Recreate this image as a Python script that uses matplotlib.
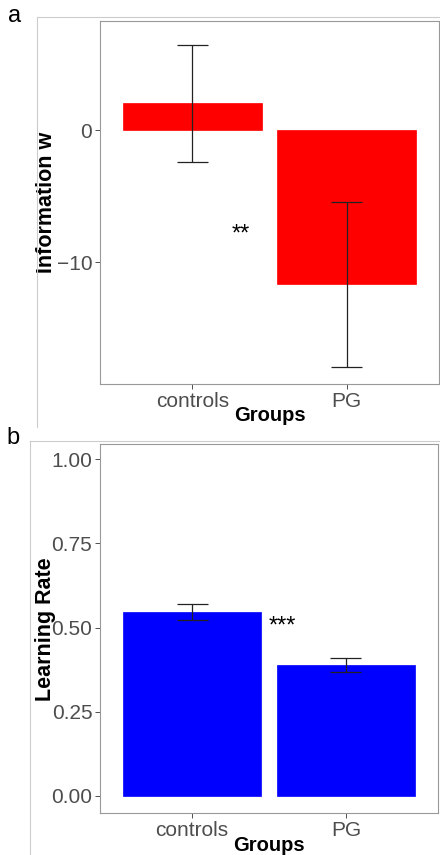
import numpy as np
import matplotlib
matplotlib.use("Agg")
from matplotlib import pyplot as plt
from matplotlib.lines import Line2D

plt.rcParams['font.family'] = ['Liberation Sans', 'DejaVu Sans']

# ----- data -----
groups = ["controls", "PG"]

info_w_mean = [2.03, -11.69]
info_w_err = [4.43, 6.24]

lr_mean = [0.547, 0.388]
lr_err = [0.024, 0.021]

W, H = 440, 855
DPI = 100

fig = plt.figure(figsize=(W / DPI, H / DPI), dpi=DPI)

def px_axes(left, top, right, bottom):
    return fig.add_axes([left / W, 1 - bottom / H, (right - left) / W, (bottom - top) / H])

def frame(x0, y0, y1):
    # light grey panel frame, like the pasted ggplot panels
    kw = dict(color="#cccccc", lw=0.8, transform=fig.transFigure)
    fig.add_artist(Line2D([x0 / W, x0 / W], [1 - y0 / H, 1 - y1 / H], **kw))
    fig.add_artist(Line2D([x0 / W, 1.0], [1 - y0 / H, 1 - y0 / H], **kw))

def bar_panel(ax, means, errs, color, ylim, yticks, yticklabels, ylabel, pad):
    x = np.arange(1, len(groups) + 1)
    ax.bar(x, means, width=0.9, color=color, edgecolor=color, linewidth=0.5, zorder=2)
    lo = np.array(means) - np.array(errs)
    hi = np.array(means) + np.array(errs)
    ax.vlines(x, lo, hi, color="#222222", lw=0.9, zorder=3)
    ax.hlines(lo, x - 0.1, x + 0.1, color="#222222", lw=0.9, zorder=3)
    ax.hlines(hi, x - 0.1, x + 0.1, color="#222222", lw=0.9, zorder=3)
    ax.set_xlim(0.4, 2.6)
    ax.set_ylim(*ylim)
    ax.set_xticks(x)
    ax.set_xticklabels(groups)
    ax.set_yticks(yticks)
    ax.set_yticklabels(yticklabels)
    ax.tick_params(axis="both", labelsize=15, labelcolor="#4D4D4D", color="#333333",
                   length=3.5, width=0.6, pad=2)
    for s in ax.spines.values():
        s.set_color("#999999")
        s.set_linewidth(0.8)
    ax.set_xlabel("Groups", fontsize=14.5, fontweight="bold", labelpad=-3)
    ax.set_ylabel(ylabel, fontsize=15.5, fontweight="bold", labelpad=pad)

# ----- panel a -----
frame(36.5, 17, 427)
ax_a = px_axes(100, 21, 439, 384)
bar_panel(ax_a, info_w_mean, info_w_err, "#FF0000", (-19.24, 8.26),
          [-10, 0], ["\u221210", "0"], "Information w", 0)
ax_a.text(1.314, -7.9, "**", fontsize=17, ha="center", va="center")
fig.text(15 / W, 1 - 16 / H, "a", fontsize=17, ha="center", va="center")

# ----- panel b -----
frame(30, 441, 860)
ax_b = px_axes(100, 444.3, 438, 813.3)
bar_panel(ax_b, lr_mean, lr_err, "#0000FF", (-0.0514, 1.0446),
          [0, 0.25, 0.5, 0.75, 1.0], ["0.00", "0.25", "0.50", "0.75", "1.00"], "Learning Rate", -3)
ax_b.text(1.586, 0.503, "***", fontsize=17, ha="center", va="center")
fig.text(13 / W, 1 - 438 / H, "b", fontsize=17, ha="center", va="center")

fig.savefig("out.png", dpi=DPI)
